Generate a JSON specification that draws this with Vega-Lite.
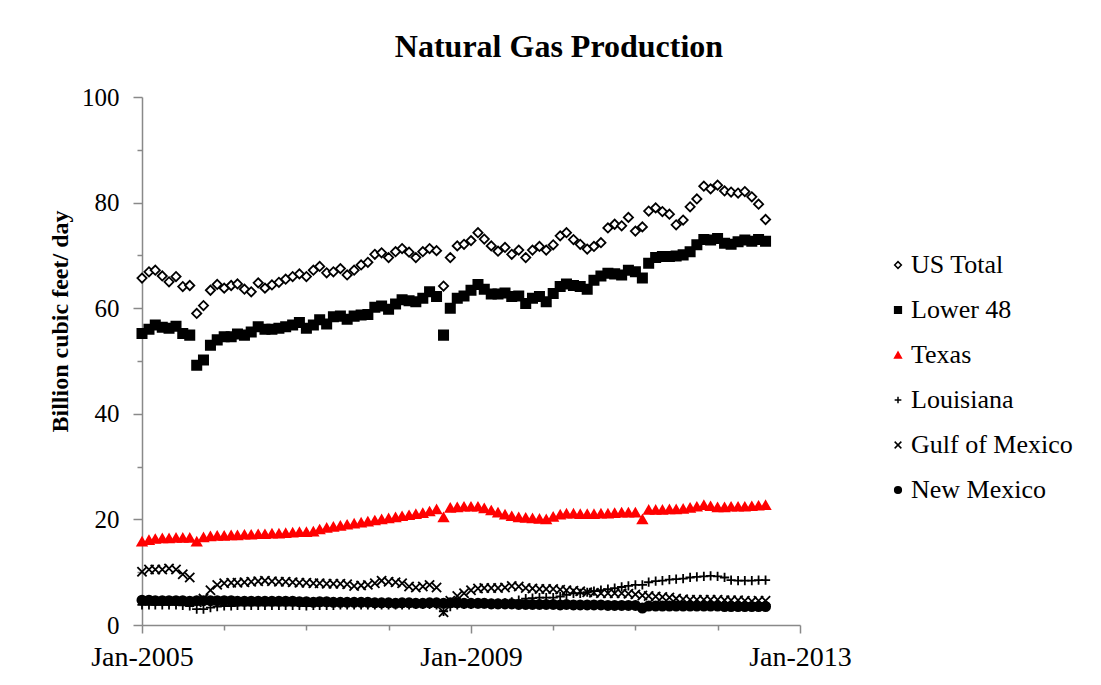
{
"$schema":"https://vega.github.io/schema/vega-lite/v6.json",
"width":658,"height":528,
"autosize":{"type":"none"},
"padding":{"left":142,"top":97,"right":301,"bottom":60},
"background":"white",
"title":{"text":"Natural Gas Production","font":"Liberation Serif","fontSize":32,"fontWeight":"bold","color":"black","anchor":"middle","dx":88,"offset":21},
"config":{"view":{"stroke":null},"font":"Liberation Serif",
 "legend":{"labelFont":"Liberation Serif, serif","labelFontSize":26,"labelColor":"black","labelLimit":0,"symbolSize":45,"symbolStrokeWidth":1.5,"rowPadding":19,"labelOffset":0}},
"datasets":{"gas":[
{"d":"2005-01-01","s":"US Total","v":65.7},{"d":"2005-02-01","s":"US Total","v":66.9},{"d":"2005-03-01","s":"US Total","v":67.2},{"d":"2005-04-01","s":"US Total","v":66.1},{"d":"2005-05-01","s":"US Total","v":65.0},{"d":"2005-06-01","s":"US Total","v":66.0},{"d":"2005-07-01","s":"US Total","v":64.1},{"d":"2005-08-01","s":"US Total","v":64.3},{"d":"2005-09-01","s":"US Total","v":59.0},{"d":"2005-10-01","s":"US Total","v":60.5},{"d":"2005-11-01","s":"US Total","v":63.4},{"d":"2005-12-01","s":"US Total","v":64.5},
{"d":"2006-01-01","s":"US Total","v":63.8},{"d":"2006-02-01","s":"US Total","v":64.3},{"d":"2006-03-01","s":"US Total","v":64.6},{"d":"2006-04-01","s":"US Total","v":63.6},{"d":"2006-05-01","s":"US Total","v":63.1},{"d":"2006-06-01","s":"US Total","v":64.8},{"d":"2006-07-01","s":"US Total","v":63.8},{"d":"2006-08-01","s":"US Total","v":64.4},{"d":"2006-09-01","s":"US Total","v":64.9},{"d":"2006-10-01","s":"US Total","v":65.5},{"d":"2006-11-01","s":"US Total","v":66.0},{"d":"2006-12-01","s":"US Total","v":66.5},
{"d":"2007-01-01","s":"US Total","v":66.0},{"d":"2007-02-01","s":"US Total","v":67.2},{"d":"2007-03-01","s":"US Total","v":67.9},{"d":"2007-04-01","s":"US Total","v":66.7},{"d":"2007-05-01","s":"US Total","v":66.9},{"d":"2007-06-01","s":"US Total","v":67.5},{"d":"2007-07-01","s":"US Total","v":66.3},{"d":"2007-08-01","s":"US Total","v":67.2},{"d":"2007-09-01","s":"US Total","v":68.2},{"d":"2007-10-01","s":"US Total","v":68.7},{"d":"2007-11-01","s":"US Total","v":70.2},{"d":"2007-12-01","s":"US Total","v":70.5},
{"d":"2008-01-01","s":"US Total","v":69.6},{"d":"2008-02-01","s":"US Total","v":70.7},{"d":"2008-03-01","s":"US Total","v":71.3},{"d":"2008-04-01","s":"US Total","v":70.6},{"d":"2008-05-01","s":"US Total","v":69.6},{"d":"2008-06-01","s":"US Total","v":70.7},{"d":"2008-07-01","s":"US Total","v":71.3},{"d":"2008-08-01","s":"US Total","v":70.9},{"d":"2008-09-01","s":"US Total","v":64.2},{"d":"2008-10-01","s":"US Total","v":69.6},{"d":"2008-11-01","s":"US Total","v":71.8},{"d":"2008-12-01","s":"US Total","v":72.1},
{"d":"2009-01-01","s":"US Total","v":72.8},{"d":"2009-02-01","s":"US Total","v":74.3},{"d":"2009-03-01","s":"US Total","v":73.1},{"d":"2009-04-01","s":"US Total","v":71.8},{"d":"2009-05-01","s":"US Total","v":70.8},{"d":"2009-06-01","s":"US Total","v":71.5},{"d":"2009-07-01","s":"US Total","v":70.2},{"d":"2009-08-01","s":"US Total","v":71.0},{"d":"2009-09-01","s":"US Total","v":69.6},{"d":"2009-10-01","s":"US Total","v":71.0},{"d":"2009-11-01","s":"US Total","v":71.7},{"d":"2009-12-01","s":"US Total","v":71.0},
{"d":"2010-01-01","s":"US Total","v":72.0},{"d":"2010-02-01","s":"US Total","v":73.7},{"d":"2010-03-01","s":"US Total","v":74.3},{"d":"2010-04-01","s":"US Total","v":73.0},{"d":"2010-05-01","s":"US Total","v":72.1},{"d":"2010-06-01","s":"US Total","v":71.2},{"d":"2010-07-01","s":"US Total","v":71.7},{"d":"2010-08-01","s":"US Total","v":72.4},{"d":"2010-09-01","s":"US Total","v":75.2},{"d":"2010-10-01","s":"US Total","v":75.9},{"d":"2010-11-01","s":"US Total","v":75.6},{"d":"2010-12-01","s":"US Total","v":77.2},
{"d":"2011-01-01","s":"US Total","v":74.6},{"d":"2011-02-01","s":"US Total","v":75.4},{"d":"2011-03-01","s":"US Total","v":78.4},{"d":"2011-04-01","s":"US Total","v":79.0},{"d":"2011-05-01","s":"US Total","v":78.3},{"d":"2011-06-01","s":"US Total","v":77.8},{"d":"2011-07-01","s":"US Total","v":75.8},{"d":"2011-08-01","s":"US Total","v":76.7},{"d":"2011-09-01","s":"US Total","v":79.2},{"d":"2011-10-01","s":"US Total","v":80.7},{"d":"2011-11-01","s":"US Total","v":83.1},{"d":"2011-12-01","s":"US Total","v":82.6},
{"d":"2012-01-01","s":"US Total","v":83.3},{"d":"2012-02-01","s":"US Total","v":82.2},{"d":"2012-03-01","s":"US Total","v":82.0},{"d":"2012-04-01","s":"US Total","v":81.8},{"d":"2012-05-01","s":"US Total","v":82.1},{"d":"2012-06-01","s":"US Total","v":81.1},{"d":"2012-07-01","s":"US Total","v":79.7},{"d":"2012-08-01","s":"US Total","v":76.8},
{"d":"2005-01-01","s":"Lower 48","v":55.2},{"d":"2005-02-01","s":"Lower 48","v":56.0},{"d":"2005-03-01","s":"Lower 48","v":56.8},{"d":"2005-04-01","s":"Lower 48","v":56.4},{"d":"2005-05-01","s":"Lower 48","v":56.2},{"d":"2005-06-01","s":"Lower 48","v":56.6},{"d":"2005-07-01","s":"Lower 48","v":55.2},{"d":"2005-08-01","s":"Lower 48","v":54.9},{"d":"2005-09-01","s":"Lower 48","v":49.2},{"d":"2005-10-01","s":"Lower 48","v":50.2},{"d":"2005-11-01","s":"Lower 48","v":53.0},{"d":"2005-12-01","s":"Lower 48","v":54.0},
{"d":"2006-01-01","s":"Lower 48","v":54.6},{"d":"2006-02-01","s":"Lower 48","v":54.6},{"d":"2006-03-01","s":"Lower 48","v":55.1},{"d":"2006-04-01","s":"Lower 48","v":54.9},{"d":"2006-05-01","s":"Lower 48","v":55.5},{"d":"2006-06-01","s":"Lower 48","v":56.5},{"d":"2006-07-01","s":"Lower 48","v":56.0},{"d":"2006-08-01","s":"Lower 48","v":56.0},{"d":"2006-09-01","s":"Lower 48","v":56.2},{"d":"2006-10-01","s":"Lower 48","v":56.5},{"d":"2006-11-01","s":"Lower 48","v":56.8},{"d":"2006-12-01","s":"Lower 48","v":57.3},
{"d":"2007-01-01","s":"Lower 48","v":56.2},{"d":"2007-02-01","s":"Lower 48","v":56.8},{"d":"2007-03-01","s":"Lower 48","v":57.8},{"d":"2007-04-01","s":"Lower 48","v":57.0},{"d":"2007-05-01","s":"Lower 48","v":58.4},{"d":"2007-06-01","s":"Lower 48","v":58.5},{"d":"2007-07-01","s":"Lower 48","v":57.9},{"d":"2007-08-01","s":"Lower 48","v":58.5},{"d":"2007-09-01","s":"Lower 48","v":58.7},{"d":"2007-10-01","s":"Lower 48","v":58.8},{"d":"2007-11-01","s":"Lower 48","v":60.2},{"d":"2007-12-01","s":"Lower 48","v":60.4},
{"d":"2008-01-01","s":"Lower 48","v":59.8},{"d":"2008-02-01","s":"Lower 48","v":60.8},{"d":"2008-03-01","s":"Lower 48","v":61.6},{"d":"2008-04-01","s":"Lower 48","v":61.4},{"d":"2008-05-01","s":"Lower 48","v":61.2},{"d":"2008-06-01","s":"Lower 48","v":61.9},{"d":"2008-07-01","s":"Lower 48","v":63.1},{"d":"2008-08-01","s":"Lower 48","v":62.2},{"d":"2008-09-01","s":"Lower 48","v":54.9},{"d":"2008-10-01","s":"Lower 48","v":60.0},{"d":"2008-11-01","s":"Lower 48","v":61.9},{"d":"2008-12-01","s":"Lower 48","v":62.3},
{"d":"2009-01-01","s":"Lower 48","v":63.4},{"d":"2009-02-01","s":"Lower 48","v":64.5},{"d":"2009-03-01","s":"Lower 48","v":63.6},{"d":"2009-04-01","s":"Lower 48","v":62.7},{"d":"2009-05-01","s":"Lower 48","v":62.7},{"d":"2009-06-01","s":"Lower 48","v":62.9},{"d":"2009-07-01","s":"Lower 48","v":62.2},{"d":"2009-08-01","s":"Lower 48","v":62.3},{"d":"2009-09-01","s":"Lower 48","v":60.9},{"d":"2009-10-01","s":"Lower 48","v":61.9},{"d":"2009-11-01","s":"Lower 48","v":62.2},{"d":"2009-12-01","s":"Lower 48","v":61.2},
{"d":"2010-01-01","s":"Lower 48","v":62.8},{"d":"2010-02-01","s":"Lower 48","v":64.1},{"d":"2010-03-01","s":"Lower 48","v":64.6},{"d":"2010-04-01","s":"Lower 48","v":64.3},{"d":"2010-05-01","s":"Lower 48","v":64.1},{"d":"2010-06-01","s":"Lower 48","v":63.6},{"d":"2010-07-01","s":"Lower 48","v":65.3},{"d":"2010-08-01","s":"Lower 48","v":66.1},{"d":"2010-09-01","s":"Lower 48","v":66.6},{"d":"2010-10-01","s":"Lower 48","v":66.5},{"d":"2010-11-01","s":"Lower 48","v":66.3},{"d":"2010-12-01","s":"Lower 48","v":67.2},
{"d":"2011-01-01","s":"Lower 48","v":66.9},{"d":"2011-02-01","s":"Lower 48","v":65.7},{"d":"2011-03-01","s":"Lower 48","v":68.5},{"d":"2011-04-01","s":"Lower 48","v":69.6},{"d":"2011-05-01","s":"Lower 48","v":69.8},{"d":"2011-06-01","s":"Lower 48","v":69.8},{"d":"2011-07-01","s":"Lower 48","v":69.9},{"d":"2011-08-01","s":"Lower 48","v":70.1},{"d":"2011-09-01","s":"Lower 48","v":70.7},{"d":"2011-10-01","s":"Lower 48","v":72.0},{"d":"2011-11-01","s":"Lower 48","v":73.0},{"d":"2011-12-01","s":"Lower 48","v":72.9},
{"d":"2012-01-01","s":"Lower 48","v":73.2},{"d":"2012-02-01","s":"Lower 48","v":72.3},{"d":"2012-03-01","s":"Lower 48","v":72.1},{"d":"2012-04-01","s":"Lower 48","v":72.6},{"d":"2012-05-01","s":"Lower 48","v":72.9},{"d":"2012-06-01","s":"Lower 48","v":72.7},{"d":"2012-07-01","s":"Lower 48","v":73.0},{"d":"2012-08-01","s":"Lower 48","v":72.7},
{"d":"2005-01-01","s":"Texas","v":15.8},{"d":"2005-02-01","s":"Texas","v":16.1},{"d":"2005-03-01","s":"Texas","v":16.3},{"d":"2005-04-01","s":"Texas","v":16.4},{"d":"2005-05-01","s":"Texas","v":16.4},{"d":"2005-06-01","s":"Texas","v":16.5},{"d":"2005-07-01","s":"Texas","v":16.5},{"d":"2005-08-01","s":"Texas","v":16.5},{"d":"2005-09-01","s":"Texas","v":15.8},{"d":"2005-10-01","s":"Texas","v":16.6},{"d":"2005-11-01","s":"Texas","v":16.8},{"d":"2005-12-01","s":"Texas","v":16.9},
{"d":"2006-01-01","s":"Texas","v":16.9},{"d":"2006-02-01","s":"Texas","v":17.0},{"d":"2006-03-01","s":"Texas","v":17.0},{"d":"2006-04-01","s":"Texas","v":17.1},{"d":"2006-05-01","s":"Texas","v":17.1},{"d":"2006-06-01","s":"Texas","v":17.2},{"d":"2006-07-01","s":"Texas","v":17.2},{"d":"2006-08-01","s":"Texas","v":17.3},{"d":"2006-09-01","s":"Texas","v":17.3},{"d":"2006-10-01","s":"Texas","v":17.4},{"d":"2006-11-01","s":"Texas","v":17.5},{"d":"2006-12-01","s":"Texas","v":17.6},
{"d":"2007-01-01","s":"Texas","v":17.6},{"d":"2007-02-01","s":"Texas","v":17.7},{"d":"2007-03-01","s":"Texas","v":18.1},{"d":"2007-04-01","s":"Texas","v":18.4},{"d":"2007-05-01","s":"Texas","v":18.6},{"d":"2007-06-01","s":"Texas","v":18.8},{"d":"2007-07-01","s":"Texas","v":19.0},{"d":"2007-08-01","s":"Texas","v":19.2},{"d":"2007-09-01","s":"Texas","v":19.4},{"d":"2007-10-01","s":"Texas","v":19.6},{"d":"2007-11-01","s":"Texas","v":19.8},{"d":"2007-12-01","s":"Texas","v":20.0},
{"d":"2008-01-01","s":"Texas","v":20.2},{"d":"2008-02-01","s":"Texas","v":20.4},{"d":"2008-03-01","s":"Texas","v":20.6},{"d":"2008-04-01","s":"Texas","v":20.8},{"d":"2008-05-01","s":"Texas","v":21.0},{"d":"2008-06-01","s":"Texas","v":21.2},{"d":"2008-07-01","s":"Texas","v":21.5},{"d":"2008-08-01","s":"Texas","v":21.9},{"d":"2008-09-01","s":"Texas","v":20.4},{"d":"2008-10-01","s":"Texas","v":22.2},{"d":"2008-11-01","s":"Texas","v":22.3},{"d":"2008-12-01","s":"Texas","v":22.4},
{"d":"2009-01-01","s":"Texas","v":22.4},{"d":"2009-02-01","s":"Texas","v":22.4},{"d":"2009-03-01","s":"Texas","v":22.1},{"d":"2009-04-01","s":"Texas","v":21.7},{"d":"2009-05-01","s":"Texas","v":21.3},{"d":"2009-06-01","s":"Texas","v":20.9},{"d":"2009-07-01","s":"Texas","v":20.6},{"d":"2009-08-01","s":"Texas","v":20.4},{"d":"2009-09-01","s":"Texas","v":20.3},{"d":"2009-10-01","s":"Texas","v":20.2},{"d":"2009-11-01","s":"Texas","v":20.1},{"d":"2009-12-01","s":"Texas","v":20.0},
{"d":"2010-01-01","s":"Texas","v":20.5},{"d":"2010-02-01","s":"Texas","v":20.9},{"d":"2010-03-01","s":"Texas","v":21.1},{"d":"2010-04-01","s":"Texas","v":21.1},{"d":"2010-05-01","s":"Texas","v":21.0},{"d":"2010-06-01","s":"Texas","v":21.0},{"d":"2010-07-01","s":"Texas","v":21.0},{"d":"2010-08-01","s":"Texas","v":21.1},{"d":"2010-09-01","s":"Texas","v":21.1},{"d":"2010-10-01","s":"Texas","v":21.2},{"d":"2010-11-01","s":"Texas","v":21.3},{"d":"2010-12-01","s":"Texas","v":21.3},
{"d":"2011-01-01","s":"Texas","v":21.3},{"d":"2011-02-01","s":"Texas","v":20.0},{"d":"2011-03-01","s":"Texas","v":21.8},{"d":"2011-04-01","s":"Texas","v":21.8},{"d":"2011-05-01","s":"Texas","v":21.8},{"d":"2011-06-01","s":"Texas","v":21.9},{"d":"2011-07-01","s":"Texas","v":21.9},{"d":"2011-08-01","s":"Texas","v":22.0},{"d":"2011-09-01","s":"Texas","v":22.2},{"d":"2011-10-01","s":"Texas","v":22.4},{"d":"2011-11-01","s":"Texas","v":22.7},{"d":"2011-12-01","s":"Texas","v":22.5},
{"d":"2012-01-01","s":"Texas","v":22.3},{"d":"2012-02-01","s":"Texas","v":22.3},{"d":"2012-03-01","s":"Texas","v":22.4},{"d":"2012-04-01","s":"Texas","v":22.4},{"d":"2012-05-01","s":"Texas","v":22.4},{"d":"2012-06-01","s":"Texas","v":22.5},{"d":"2012-07-01","s":"Texas","v":22.6},{"d":"2012-08-01","s":"Texas","v":22.7},
{"d":"2005-01-01","s":"Louisiana","v":3.8},{"d":"2005-02-01","s":"Louisiana","v":3.8},{"d":"2005-03-01","s":"Louisiana","v":3.8},{"d":"2005-04-01","s":"Louisiana","v":3.8},{"d":"2005-05-01","s":"Louisiana","v":3.8},{"d":"2005-06-01","s":"Louisiana","v":3.8},{"d":"2005-07-01","s":"Louisiana","v":3.7},{"d":"2005-08-01","s":"Louisiana","v":3.6},{"d":"2005-09-01","s":"Louisiana","v":3.0},{"d":"2005-10-01","s":"Louisiana","v":3.0},{"d":"2005-11-01","s":"Louisiana","v":3.3},{"d":"2005-12-01","s":"Louisiana","v":3.5},
{"d":"2006-01-01","s":"Louisiana","v":3.6},{"d":"2006-02-01","s":"Louisiana","v":3.6},{"d":"2006-03-01","s":"Louisiana","v":3.7},{"d":"2006-04-01","s":"Louisiana","v":3.7},{"d":"2006-05-01","s":"Louisiana","v":3.7},{"d":"2006-06-01","s":"Louisiana","v":3.7},{"d":"2006-07-01","s":"Louisiana","v":3.7},{"d":"2006-08-01","s":"Louisiana","v":3.7},{"d":"2006-09-01","s":"Louisiana","v":3.7},{"d":"2006-10-01","s":"Louisiana","v":3.7},{"d":"2006-11-01","s":"Louisiana","v":3.7},{"d":"2006-12-01","s":"Louisiana","v":3.7},
{"d":"2007-01-01","s":"Louisiana","v":3.6},{"d":"2007-02-01","s":"Louisiana","v":3.7},{"d":"2007-03-01","s":"Louisiana","v":3.7},{"d":"2007-04-01","s":"Louisiana","v":3.7},{"d":"2007-05-01","s":"Louisiana","v":3.7},{"d":"2007-06-01","s":"Louisiana","v":3.8},{"d":"2007-07-01","s":"Louisiana","v":3.8},{"d":"2007-08-01","s":"Louisiana","v":3.8},{"d":"2007-09-01","s":"Louisiana","v":3.8},{"d":"2007-10-01","s":"Louisiana","v":3.8},{"d":"2007-11-01","s":"Louisiana","v":3.8},{"d":"2007-12-01","s":"Louisiana","v":3.8},
{"d":"2008-01-01","s":"Louisiana","v":3.8},{"d":"2008-02-01","s":"Louisiana","v":3.8},{"d":"2008-03-01","s":"Louisiana","v":3.8},{"d":"2008-04-01","s":"Louisiana","v":3.8},{"d":"2008-05-01","s":"Louisiana","v":3.9},{"d":"2008-06-01","s":"Louisiana","v":3.9},{"d":"2008-07-01","s":"Louisiana","v":3.9},{"d":"2008-08-01","s":"Louisiana","v":3.8},{"d":"2008-09-01","s":"Louisiana","v":2.6},{"d":"2008-10-01","s":"Louisiana","v":3.5},{"d":"2008-11-01","s":"Louisiana","v":3.8},{"d":"2008-12-01","s":"Louisiana","v":3.9},
{"d":"2009-01-01","s":"Louisiana","v":3.9},{"d":"2009-02-01","s":"Louisiana","v":4.0},{"d":"2009-03-01","s":"Louisiana","v":4.0},{"d":"2009-04-01","s":"Louisiana","v":4.1},{"d":"2009-05-01","s":"Louisiana","v":4.1},{"d":"2009-06-01","s":"Louisiana","v":4.2},{"d":"2009-07-01","s":"Louisiana","v":4.4},{"d":"2009-08-01","s":"Louisiana","v":4.7},{"d":"2009-09-01","s":"Louisiana","v":5.0},{"d":"2009-10-01","s":"Louisiana","v":5.1},{"d":"2009-11-01","s":"Louisiana","v":5.2},{"d":"2009-12-01","s":"Louisiana","v":5.2},
{"d":"2010-01-01","s":"Louisiana","v":5.2},{"d":"2010-02-01","s":"Louisiana","v":5.4},{"d":"2010-03-01","s":"Louisiana","v":5.7},{"d":"2010-04-01","s":"Louisiana","v":6.0},{"d":"2010-05-01","s":"Louisiana","v":6.0},{"d":"2010-06-01","s":"Louisiana","v":6.2},{"d":"2010-07-01","s":"Louisiana","v":6.4},{"d":"2010-08-01","s":"Louisiana","v":6.6},{"d":"2010-09-01","s":"Louisiana","v":6.8},{"d":"2010-10-01","s":"Louisiana","v":7.0},{"d":"2010-11-01","s":"Louisiana","v":7.2},{"d":"2010-12-01","s":"Louisiana","v":7.4},
{"d":"2011-01-01","s":"Louisiana","v":7.6},{"d":"2011-02-01","s":"Louisiana","v":7.6},{"d":"2011-03-01","s":"Louisiana","v":8.1},{"d":"2011-04-01","s":"Louisiana","v":8.3},{"d":"2011-05-01","s":"Louisiana","v":8.4},{"d":"2011-06-01","s":"Louisiana","v":8.6},{"d":"2011-07-01","s":"Louisiana","v":8.7},{"d":"2011-08-01","s":"Louisiana","v":8.8},{"d":"2011-09-01","s":"Louisiana","v":9.0},{"d":"2011-10-01","s":"Louisiana","v":9.1},{"d":"2011-11-01","s":"Louisiana","v":9.2},{"d":"2011-12-01","s":"Louisiana","v":9.3},
{"d":"2012-01-01","s":"Louisiana","v":9.2},{"d":"2012-02-01","s":"Louisiana","v":9.0},{"d":"2012-03-01","s":"Louisiana","v":8.5},{"d":"2012-04-01","s":"Louisiana","v":8.4},{"d":"2012-05-01","s":"Louisiana","v":8.4},{"d":"2012-06-01","s":"Louisiana","v":8.4},{"d":"2012-07-01","s":"Louisiana","v":8.5},{"d":"2012-08-01","s":"Louisiana","v":8.5},
{"d":"2005-01-01","s":"Gulf of Mexico","v":10.1},{"d":"2005-02-01","s":"Gulf of Mexico","v":10.5},{"d":"2005-03-01","s":"Gulf of Mexico","v":10.5},{"d":"2005-04-01","s":"Gulf of Mexico","v":10.5},{"d":"2005-05-01","s":"Gulf of Mexico","v":10.7},{"d":"2005-06-01","s":"Gulf of Mexico","v":10.5},{"d":"2005-07-01","s":"Gulf of Mexico","v":9.6},{"d":"2005-08-01","s":"Gulf of Mexico","v":9.0},{"d":"2005-09-01","s":"Gulf of Mexico","v":4.3},{"d":"2005-10-01","s":"Gulf of Mexico","v":5.0},{"d":"2005-11-01","s":"Gulf of Mexico","v":6.6},{"d":"2005-12-01","s":"Gulf of Mexico","v":7.6},
{"d":"2006-01-01","s":"Gulf of Mexico","v":7.9},{"d":"2006-02-01","s":"Gulf of Mexico","v":8.0},{"d":"2006-03-01","s":"Gulf of Mexico","v":8.0},{"d":"2006-04-01","s":"Gulf of Mexico","v":8.1},{"d":"2006-05-01","s":"Gulf of Mexico","v":8.2},{"d":"2006-06-01","s":"Gulf of Mexico","v":8.3},{"d":"2006-07-01","s":"Gulf of Mexico","v":8.4},{"d":"2006-08-01","s":"Gulf of Mexico","v":8.3},{"d":"2006-09-01","s":"Gulf of Mexico","v":8.2},{"d":"2006-10-01","s":"Gulf of Mexico","v":8.2},{"d":"2006-11-01","s":"Gulf of Mexico","v":8.1},{"d":"2006-12-01","s":"Gulf of Mexico","v":8.0},
{"d":"2007-01-01","s":"Gulf of Mexico","v":8.0},{"d":"2007-02-01","s":"Gulf of Mexico","v":7.9},{"d":"2007-03-01","s":"Gulf of Mexico","v":7.9},{"d":"2007-04-01","s":"Gulf of Mexico","v":7.8},{"d":"2007-05-01","s":"Gulf of Mexico","v":7.8},{"d":"2007-06-01","s":"Gulf of Mexico","v":7.8},{"d":"2007-07-01","s":"Gulf of Mexico","v":7.7},{"d":"2007-08-01","s":"Gulf of Mexico","v":7.4},{"d":"2007-09-01","s":"Gulf of Mexico","v":7.5},{"d":"2007-10-01","s":"Gulf of Mexico","v":7.6},{"d":"2007-11-01","s":"Gulf of Mexico","v":7.9},{"d":"2007-12-01","s":"Gulf of Mexico","v":8.4},
{"d":"2008-01-01","s":"Gulf of Mexico","v":8.2},{"d":"2008-02-01","s":"Gulf of Mexico","v":8.1},{"d":"2008-03-01","s":"Gulf of Mexico","v":7.9},{"d":"2008-04-01","s":"Gulf of Mexico","v":7.3},{"d":"2008-05-01","s":"Gulf of Mexico","v":7.1},{"d":"2008-06-01","s":"Gulf of Mexico","v":7.3},{"d":"2008-07-01","s":"Gulf of Mexico","v":7.6},{"d":"2008-08-01","s":"Gulf of Mexico","v":7.1},{"d":"2008-09-01","s":"Gulf of Mexico","v":2.4},{"d":"2008-10-01","s":"Gulf of Mexico","v":4.6},{"d":"2008-11-01","s":"Gulf of Mexico","v":5.5},{"d":"2008-12-01","s":"Gulf of Mexico","v":6.0},
{"d":"2009-01-01","s":"Gulf of Mexico","v":6.6},{"d":"2009-02-01","s":"Gulf of Mexico","v":6.9},{"d":"2009-03-01","s":"Gulf of Mexico","v":7.0},{"d":"2009-04-01","s":"Gulf of Mexico","v":7.0},{"d":"2009-05-01","s":"Gulf of Mexico","v":7.0},{"d":"2009-06-01","s":"Gulf of Mexico","v":7.1},{"d":"2009-07-01","s":"Gulf of Mexico","v":7.4},{"d":"2009-08-01","s":"Gulf of Mexico","v":7.3},{"d":"2009-09-01","s":"Gulf of Mexico","v":7.0},{"d":"2009-10-01","s":"Gulf of Mexico","v":6.9},{"d":"2009-11-01","s":"Gulf of Mexico","v":6.8},{"d":"2009-12-01","s":"Gulf of Mexico","v":6.8},
{"d":"2010-01-01","s":"Gulf of Mexico","v":6.8},{"d":"2010-02-01","s":"Gulf of Mexico","v":6.7},{"d":"2010-03-01","s":"Gulf of Mexico","v":6.6},{"d":"2010-04-01","s":"Gulf of Mexico","v":6.5},{"d":"2010-05-01","s":"Gulf of Mexico","v":6.4},{"d":"2010-06-01","s":"Gulf of Mexico","v":6.2},{"d":"2010-07-01","s":"Gulf of Mexico","v":6.1},{"d":"2010-08-01","s":"Gulf of Mexico","v":6.0},{"d":"2010-09-01","s":"Gulf of Mexico","v":6.0},{"d":"2010-10-01","s":"Gulf of Mexico","v":6.0},{"d":"2010-11-01","s":"Gulf of Mexico","v":6.0},{"d":"2010-12-01","s":"Gulf of Mexico","v":5.9},
{"d":"2011-01-01","s":"Gulf of Mexico","v":5.8},{"d":"2011-02-01","s":"Gulf of Mexico","v":5.6},{"d":"2011-03-01","s":"Gulf of Mexico","v":5.5},{"d":"2011-04-01","s":"Gulf of Mexico","v":5.4},{"d":"2011-05-01","s":"Gulf of Mexico","v":5.3},{"d":"2011-06-01","s":"Gulf of Mexico","v":5.2},{"d":"2011-07-01","s":"Gulf of Mexico","v":5.0},{"d":"2011-08-01","s":"Gulf of Mexico","v":4.9},{"d":"2011-09-01","s":"Gulf of Mexico","v":4.8},{"d":"2011-10-01","s":"Gulf of Mexico","v":4.8},{"d":"2011-11-01","s":"Gulf of Mexico","v":4.8},{"d":"2011-12-01","s":"Gulf of Mexico","v":4.8},
{"d":"2012-01-01","s":"Gulf of Mexico","v":4.8},{"d":"2012-02-01","s":"Gulf of Mexico","v":4.7},{"d":"2012-03-01","s":"Gulf of Mexico","v":4.7},{"d":"2012-04-01","s":"Gulf of Mexico","v":4.7},{"d":"2012-05-01","s":"Gulf of Mexico","v":4.6},{"d":"2012-06-01","s":"Gulf of Mexico","v":4.5},{"d":"2012-07-01","s":"Gulf of Mexico","v":4.6},{"d":"2012-08-01","s":"Gulf of Mexico","v":4.6},
{"d":"2005-01-01","s":"New Mexico","v":4.7},{"d":"2005-02-01","s":"New Mexico","v":4.7},{"d":"2005-03-01","s":"New Mexico","v":4.6},{"d":"2005-04-01","s":"New Mexico","v":4.6},{"d":"2005-05-01","s":"New Mexico","v":4.6},{"d":"2005-06-01","s":"New Mexico","v":4.6},{"d":"2005-07-01","s":"New Mexico","v":4.6},{"d":"2005-08-01","s":"New Mexico","v":4.5},{"d":"2005-09-01","s":"New Mexico","v":4.6},{"d":"2005-10-01","s":"New Mexico","v":4.6},{"d":"2005-11-01","s":"New Mexico","v":4.6},{"d":"2005-12-01","s":"New Mexico","v":4.6},
{"d":"2006-01-01","s":"New Mexico","v":4.6},{"d":"2006-02-01","s":"New Mexico","v":4.6},{"d":"2006-03-01","s":"New Mexico","v":4.5},{"d":"2006-04-01","s":"New Mexico","v":4.5},{"d":"2006-05-01","s":"New Mexico","v":4.5},{"d":"2006-06-01","s":"New Mexico","v":4.5},{"d":"2006-07-01","s":"New Mexico","v":4.5},{"d":"2006-08-01","s":"New Mexico","v":4.5},{"d":"2006-09-01","s":"New Mexico","v":4.5},{"d":"2006-10-01","s":"New Mexico","v":4.5},{"d":"2006-11-01","s":"New Mexico","v":4.5},{"d":"2006-12-01","s":"New Mexico","v":4.4},
{"d":"2007-01-01","s":"New Mexico","v":4.4},{"d":"2007-02-01","s":"New Mexico","v":4.3},{"d":"2007-03-01","s":"New Mexico","v":4.4},{"d":"2007-04-01","s":"New Mexico","v":4.4},{"d":"2007-05-01","s":"New Mexico","v":4.3},{"d":"2007-06-01","s":"New Mexico","v":4.3},{"d":"2007-07-01","s":"New Mexico","v":4.3},{"d":"2007-08-01","s":"New Mexico","v":4.3},{"d":"2007-09-01","s":"New Mexico","v":4.3},{"d":"2007-10-01","s":"New Mexico","v":4.3},{"d":"2007-11-01","s":"New Mexico","v":4.2},{"d":"2007-12-01","s":"New Mexico","v":4.2},
{"d":"2008-01-01","s":"New Mexico","v":4.2},{"d":"2008-02-01","s":"New Mexico","v":4.1},{"d":"2008-03-01","s":"New Mexico","v":4.2},{"d":"2008-04-01","s":"New Mexico","v":4.2},{"d":"2008-05-01","s":"New Mexico","v":4.1},{"d":"2008-06-01","s":"New Mexico","v":4.1},{"d":"2008-07-01","s":"New Mexico","v":4.2},{"d":"2008-08-01","s":"New Mexico","v":4.2},{"d":"2008-09-01","s":"New Mexico","v":4.1},{"d":"2008-10-01","s":"New Mexico","v":4.2},{"d":"2008-11-01","s":"New Mexico","v":4.2},{"d":"2008-12-01","s":"New Mexico","v":4.1},
{"d":"2009-01-01","s":"New Mexico","v":4.1},{"d":"2009-02-01","s":"New Mexico","v":4.1},{"d":"2009-03-01","s":"New Mexico","v":4.1},{"d":"2009-04-01","s":"New Mexico","v":4.0},{"d":"2009-05-01","s":"New Mexico","v":4.0},{"d":"2009-06-01","s":"New Mexico","v":4.0},{"d":"2009-07-01","s":"New Mexico","v":4.0},{"d":"2009-08-01","s":"New Mexico","v":3.9},{"d":"2009-09-01","s":"New Mexico","v":3.9},{"d":"2009-10-01","s":"New Mexico","v":3.9},{"d":"2009-11-01","s":"New Mexico","v":3.9},{"d":"2009-12-01","s":"New Mexico","v":3.9},
{"d":"2010-01-01","s":"New Mexico","v":3.9},{"d":"2010-02-01","s":"New Mexico","v":3.8},{"d":"2010-03-01","s":"New Mexico","v":3.9},{"d":"2010-04-01","s":"New Mexico","v":3.8},{"d":"2010-05-01","s":"New Mexico","v":3.8},{"d":"2010-06-01","s":"New Mexico","v":3.8},{"d":"2010-07-01","s":"New Mexico","v":3.8},{"d":"2010-08-01","s":"New Mexico","v":3.8},{"d":"2010-09-01","s":"New Mexico","v":3.7},{"d":"2010-10-01","s":"New Mexico","v":3.7},{"d":"2010-11-01","s":"New Mexico","v":3.7},{"d":"2010-12-01","s":"New Mexico","v":3.7},
{"d":"2011-01-01","s":"New Mexico","v":3.7},{"d":"2011-02-01","s":"New Mexico","v":3.2},{"d":"2011-03-01","s":"New Mexico","v":3.6},{"d":"2011-04-01","s":"New Mexico","v":3.6},{"d":"2011-05-01","s":"New Mexico","v":3.6},{"d":"2011-06-01","s":"New Mexico","v":3.6},{"d":"2011-07-01","s":"New Mexico","v":3.6},{"d":"2011-08-01","s":"New Mexico","v":3.6},{"d":"2011-09-01","s":"New Mexico","v":3.6},{"d":"2011-10-01","s":"New Mexico","v":3.6},{"d":"2011-11-01","s":"New Mexico","v":3.6},{"d":"2011-12-01","s":"New Mexico","v":3.6},
{"d":"2012-01-01","s":"New Mexico","v":3.6},{"d":"2012-02-01","s":"New Mexico","v":3.5},{"d":"2012-03-01","s":"New Mexico","v":3.5},{"d":"2012-04-01","s":"New Mexico","v":3.5},{"d":"2012-05-01","s":"New Mexico","v":3.5},{"d":"2012-06-01","s":"New Mexico","v":3.5},{"d":"2012-07-01","s":"New Mexico","v":3.5},{"d":"2012-08-01","s":"New Mexico","v":3.5}
]},
"data":{"name":"gas"},
"mark":{"type":"point","strokeWidth":1.8,"opacity":1,"size":85},
"encoding":{
"x":{"field":"d","type":"temporal",
 "scale":{"type":"utc","domain":[{"year":2005,"month":1,"date":1,"utc":true},{"year":2013,"month":1,"date":1,"utc":true}]},
 "axis":{"title":null,"grid":false,
  "values":[{"year":2005,"month":1,"date":1,"utc":true},{"year":2006,"month":1,"date":1,"utc":true},{"year":2007,"month":1,"date":1,"utc":true},{"year":2008,"month":1,"date":1,"utc":true},{"year":2009,"month":1,"date":1,"utc":true},{"year":2010,"month":1,"date":1,"utc":true},{"year":2011,"month":1,"date":1,"utc":true},{"year":2012,"month":1,"date":1,"utc":true},{"year":2013,"month":1,"date":1,"utc":true}],
  "labelExpr":"utcyear(datum.value) % 4 == 1 ? utcFormat(datum.value, '%b-%Y') : ''",
  "labelFont":"Liberation Serif","labelFontSize":28,"labelColor":"black","labelPadding":10,"labelFlush":false,"labelOverlap":false,
  "tickSize":{"condition":{"test":"utcyear(datum.value) % 4 == 1","value":8},"value":5},
  "tickColor":"#898989","tickWidth":1.5,"domainColor":"#898989","domainWidth":1.5}},
"y":{"field":"v","type":"quantitative",
 "scale":{"domain":[0,100],"nice":false,"zero":true},
 "axis":{"title":"Billion cubic feet/ day","grid":false,
  "values":[0,10,20,30,40,50,60,70,80,90,100],
  "labelExpr":"datum.value % 20 == 0 ? datum.label : ''",
  "labelFont":"Liberation Serif","labelFontSize":25,"labelColor":"black","labelPadding":14,"labelOverlap":false,
  "tickSize":{"condition":{"test":"datum.value % 20 == 0","value":9},"value":5},
  "tickColor":"#898989","tickWidth":1.5,"domainColor":"#898989","domainWidth":1.5,
  "titleFont":"Liberation Serif","titleFontSize":24,"titleFontWeight":"bold","titleColor":"black",
  "titleAngle":-90,"titleX":-82,"titleY":224,"titleAlign":"center","titleBaseline":"middle"}},
"shape":{"field":"s","type":"nominal","scale":{"domain":["US Total","Lower 48","Texas","Louisiana","Gulf of Mexico","New Mexico"],"range":["diamond","square","triangle-up","M-1,0L1,0M0,-1L0,1","M-1,-1L1,1M-1,1L1,-1","circle"]},
 "legend":{"title":null,"orient":"none","legendX":743,"legendY":155,"labelFont":"Liberation Serif, serif","labelFontSize":26,"labelColor":"black","labelLimit":0,"symbolSize":45,"symbolStrokeWidth":1.5,"rowPadding":19,"labelOffset":0}},
"fill":{"field":"s","type":"nominal","scale":{"domain":["US Total","Lower 48","Texas","Louisiana","Gulf of Mexico","New Mexico"],"range":["white","black","#ff0000","transparent","transparent","black"]}},
"stroke":{"field":"s","type":"nominal","scale":{"domain":["US Total","Lower 48","Texas","Louisiana","Gulf of Mexico","New Mexico"],"range":["black","black","#ff0000","black","black","black"]}}
}
}
